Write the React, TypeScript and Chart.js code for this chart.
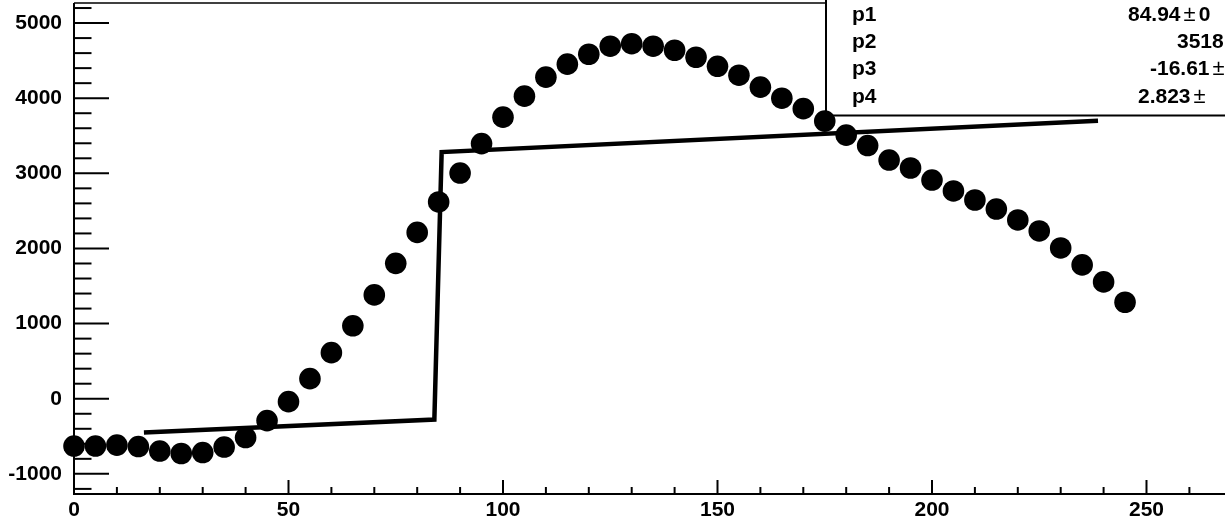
import React, { useEffect, useRef } from "react";
import { Chart, registerables } from "chart.js";

Chart.register(...registerables);

// Data points (x in steps of 5, y)
const pointX = [
  0, 5, 10, 15, 20, 25, 30, 35, 40, 45, 50, 55, 60, 65, 70, 75, 80, 85, 90, 95,
  100, 105, 110, 115, 120, 125, 130, 135, 140, 145, 150, 155, 160, 165, 170, 175,
  180, 185, 190, 195, 200, 205, 210, 215, 220, 225, 230, 235, 240, 245,
];
const pointY = [
  -630, -630, -617, -636, -696, -729, -716, -643, -517, -291, -39, 267, 613, 971,
  1382, 1802, 2214, 2619, 3004, 3396, 3748, 4027, 4280, 4453, 4585, 4692, 4725,
  4692, 4638, 4545, 4425, 4306, 4147, 4000, 3861, 3695, 3509, 3370, 3177, 3071,
  2911, 2765, 2645, 2525, 2379, 2233, 2007, 1781, 1555, 1284,
];

// Fit curve
const fitX = [16.3, 84.0, 85.7, 238.7];
const fitY = [-450, -278, 3283, 3699];

// Axis ranges & ticks
const xMin = 0;
const xMax = 268.3;
const yMin = -1268;
const yMax = 5267;
const xTickValues = [0, 50, 100, 150, 200, 250];
const yTickValues = [-1000, 0, 1000, 2000, 3000, 4000, 5000];
const xMinorStep = 10;
const yMinorStep = 200;

// Stats box
const statNames = ["p1", "p2", "p3", "p4"];
const statValues = ["84.94", "3518", "-16.61", "2.823"];
const statErrors = ["0", "", "", ""];
const statHasPm = [true, false, true, true];

const FONT = "'Liberation Sans', Arial, Helvetica, sans-serif";

const rootPlugin = {
  id: "rootStyle",
  beforeDatasetsDraw(chart: any) {
    const ctx = chart.ctx;
    const { left, right, top, bottom } = chart.chartArea;
    const xs = chart.scales.x;
    const ys = chart.scales.y;
    ctx.save();
    ctx.strokeStyle = "#000";
    // top frame
    ctx.lineWidth = 1.5;
    ctx.beginPath();
    ctx.moveTo(left, top);
    ctx.lineTo(right, top);
    ctx.stroke();
    // axes
    ctx.lineWidth = 2;
    ctx.beginPath();
    ctx.moveTo(left, top);
    ctx.lineTo(left, bottom);
    ctx.lineTo(right, bottom);
    ctx.stroke();
    // y ticks
    for (let v = Math.ceil(yMin / yMinorStep) * yMinorStep; v <= yMax; v += yMinorStep) {
      const py = ys.getPixelForValue(v);
      const len = yTickValues.includes(v) ? 35 : 17.5;
      ctx.beginPath();
      ctx.moveTo(left, py);
      ctx.lineTo(left + len, py);
      ctx.stroke();
    }
    // x ticks
    for (let v = Math.ceil(xMin / xMinorStep) * xMinorStep; v <= xMax; v += xMinorStep) {
      const px = xs.getPixelForValue(v);
      const len = xTickValues.includes(v) ? 14 : 7;
      ctx.beginPath();
      ctx.moveTo(px, bottom);
      ctx.lineTo(px, bottom - len);
      ctx.stroke();
    }
    // stats box
    const bx = 826;
    const by = 115.5;
    ctx.fillStyle = "#fff";
    ctx.fillRect(bx, -10, 600, by + 10);
    ctx.lineWidth = 2;
    ctx.beginPath();
    ctx.moveTo(bx, -10);
    ctx.lineTo(bx, by);
    ctx.lineTo(bx + 600, by);
    ctx.stroke();
    // stats text
    const baselines = [20.7, 48.3, 75, 103.3];
    const valueX = [1128, 1177, 1150, 1138];
    ctx.fillStyle = "#000";
    ctx.textBaseline = "alphabetic";
    ctx.textAlign = "left";
    for (let i = 0; i < statNames.length; i++) {
      ctx.font = `bold 21px ${FONT}`;
      ctx.fillText(statNames[i], 852, baselines[i]);
      ctx.fillText(statValues[i], valueX[i], baselines[i]);
      let x = valueX[i] + ctx.measureText(statValues[i]).width + 3;
      if (statHasPm[i]) {
        ctx.font = `22px ${FONT}`;
        ctx.fillText("±", x, baselines[i]);
        x += ctx.measureText("±").width + 3;
      }
      if (statErrors[i]) {
        ctx.font = `bold 21px ${FONT}`;
        ctx.fillText(statErrors[i], x, baselines[i]);
      }
    }
    ctx.restore();
  },
};

export default function App() {
  const ref = useRef<HTMLCanvasElement | null>(null);
  useEffect(() => {
    if (!ref.current) return;
    const points = pointX.map((x, i) => ({ x, y: pointY[i] }));
    const fit = fitX.map((x, i) => ({ x, y: fitY[i] }));
    const chart = new Chart(ref.current, {
      type: "scatter",
      data: {
        datasets: [
          {
            data: fit,
            showLine: true,
            borderColor: "#000",
            borderWidth: 4.5,
            pointRadius: 0,
            borderJoinStyle: "miter",
            clip: false,
          } as any,
          {
            data: points,
            showLine: false,
            backgroundColor: "#000",
            borderWidth: 0,
            pointRadius: 10.8,
            pointHoverRadius: 10.8,
            clip: false,
          } as any,
        ],
      },
      options: {
        animation: false,
        responsive: false,
        events: [],
        layout: { autoPadding: false, padding: { top: 3, right: 0, left: 0, bottom: 0 } },
        plugins: {
          legend: { display: false },
          tooltip: { enabled: false },
          title: { display: false },
        },
        scales: {
          x: {
            type: "linear",
            min: xMin,
            max: xMax,
            grid: { display: false, drawTicks: false },
            border: { display: false },
            afterBuildTicks: (s: any) => {
              s.ticks = xTickValues.map((v) => ({ value: v }));
            },
            afterFit: (s: any) => {
              s.height = 31;
              s.paddingLeft = 0;
              s.paddingRight = 0;
              s.paddingTop = 0;
              s.paddingBottom = 0;
            },
            ticks: {
              padding: 4,
              maxRotation: 0,
              autoSkip: false,
              color: "#000",
              callback: (v: any) => String(v),
              font: { family: FONT, size: 21, weight: "bold" },
            },
          },
          y: {
            type: "linear",
            min: yMin,
            max: yMax,
            grid: { display: false, drawTicks: false },
            border: { display: false },
            afterBuildTicks: (s: any) => {
              s.ticks = yTickValues.map((v) => ({ value: v }));
            },
            afterFit: (s: any) => {
              s.width = 74;
              s.paddingLeft = 0;
              s.paddingRight = 0;
              s.paddingTop = 0;
              s.paddingBottom = 0;
            },
            ticks: {
              padding: 12,
              autoSkip: false,
              color: "#000",
              callback: (v: any) => String(v),
              font: { family: FONT, size: 21, weight: "bold" },
            },
          },
        },
      } as any,
      plugins: [rootPlugin],
    });
    return () => chart.destroy();
  }, []);
  return (
    <div style={{ position: "absolute", left: 0, top: 0, width: 1225, height: 525, background: "#fff", overflow: "hidden" }}>
      <canvas ref={ref} width={1225} height={525} style={{ display: "block" }} />
    </div>
  );
}
